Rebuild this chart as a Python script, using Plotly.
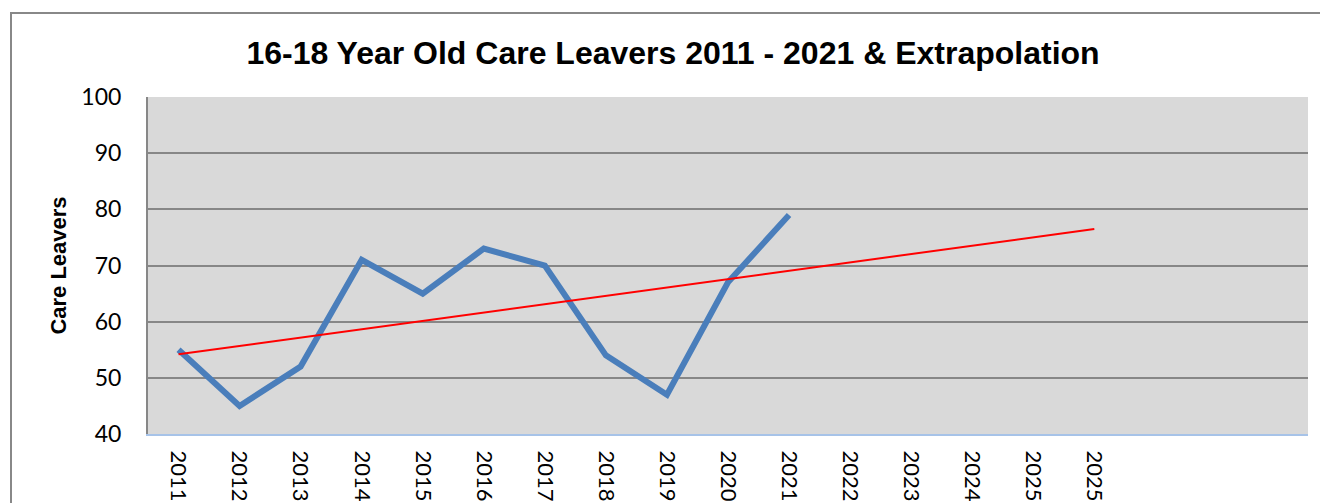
import plotly.graph_objects as go

tick_labels = ["2011", "2012", "2013", "2014", "2015", "2016", "2017", "2018",
               "2019", "2020", "2021", "2022", "2023", "2024", "2025", "2025"]
n_slots = 19
care_leavers = [55, 45, 52, 71, 65, 73, 70, 54, 47, 67, 79]
trend_pos = [0, 15]
trend_vals = [54.2, 76.5]

fig = go.Figure()
fig.add_trace(go.Scatter(
    x=list(range(len(care_leavers))), y=care_leavers, mode="lines",
    line=dict(color="#4a7ebb", width=6), showlegend=False))
fig.add_trace(go.Scatter(
    x=trend_pos, y=trend_vals, mode="lines",
    line=dict(color="#ff0000", width=2), showlegend=False))

OFF = 7  # page body offset
W, H = 1328, 503
L = 147 - OFF
T = 96 - OFF
pw = 1160
ph = 337
R = W - L - pw
B = H - T - ph
fig.add_shape(type="rect", xref="paper", yref="paper",
              x0=(10 - 147) / pw, x1=(1450 - 147) / pw,
              y0=-0.6, y1=(433 - 12) / ph,
              line=dict(color="#888888", width=2), layer="below")

fig.update_layout(
    width=W, height=H,
    margin=dict(l=L, r=R, t=T, b=B, autoexpand=False),
    paper_bgcolor="white", plot_bgcolor="#d9d9d9",
    title=dict(text="<b>16-18 Year Old Care Leavers 2011 - 2021 & Extrapolation</b>",
               x=(672 - OFF) / W, xanchor="center", y=(H - (52 - OFF)) / H, yanchor="middle",
               font=dict(family="Liberation Sans, Arial", size=32, color="black")),
    xaxis=dict(range=[-0.5, n_slots - 0.5], tickvals=list(range(len(tick_labels))),
               ticktext=tick_labels, tickangle=90, showgrid=False, zeroline=False,
               showline=True, linecolor="#a7c3e8", linewidth=2,
               tickfont=dict(family="Lato, Carlito, sans-serif", size=22, color="black"),
               ticklabelstandoff=10, automargin=False, ticks=""),
    yaxis=dict(range=[40, 100], dtick=10, showgrid=True, gridcolor="#878787", gridwidth=2,
               zeroline=False, showline=True, linecolor="#878787", linewidth=2,
               tickfont=dict(family="Lato, Carlito, sans-serif", size=23, color="black"),
               ticklabelstandoff=20, automargin=False,
               title=dict(text="<b>Care Leavers</b>", standoff=9,
                          font=dict(family="Liberation Sans, Arial", size=22, color="black"))),
)
fig.write_html("out.html")
